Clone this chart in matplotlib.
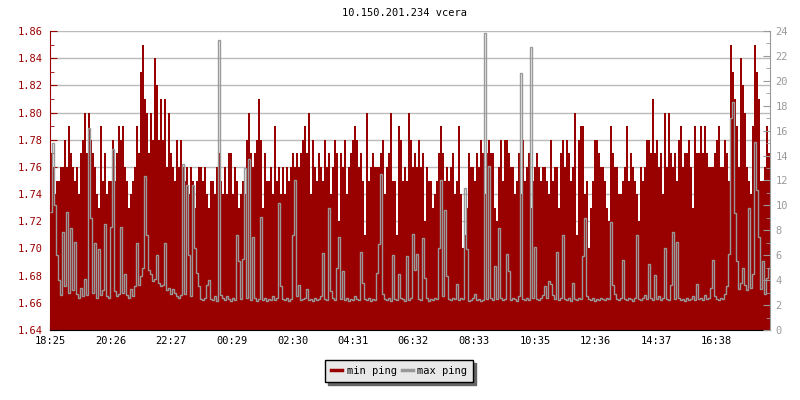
import numpy as np
import matplotlib
matplotlib.use("Agg")
import matplotlib.pyplot as plt
from matplotlib.lines import Line2D

plt.rcParams["font.family"] = "DejaVu Sans Mono"

title = "10.150.201.234 vcera"
start_label = "18:25"
step_min = 4
tick_labels = ["18:25", "20:26", "22:27", "00:29", "02:30", "04:31",
               "06:32", "08:33", "10:35", "12:36", "14:37", "16:38"]

# min ping (left axis), one value per 4 minutes
min_ping = [
    1.77, 1.76, 1.74, 1.75, 1.75, 1.76, 1.76, 1.78, 1.76, 1.79, 1.77, 1.76,
    1.75, 1.76, 1.74, 1.77, 1.78, 1.80, 1.77, 1.80, 1.78, 1.77, 1.76, 1.74,
    1.73, 1.79, 1.75, 1.77, 1.74, 1.75, 1.75, 1.78, 1.75, 1.77, 1.79, 1.78,
    1.79, 1.76, 1.75, 1.73, 1.74, 1.75, 1.76, 1.79, 1.77, 1.83, 1.85, 1.81,
    1.80, 1.77, 1.80, 1.78, 1.84, 1.82, 1.78, 1.81, 1.78, 1.81, 1.76, 1.80,
    1.77, 1.76, 1.75, 1.78, 1.76, 1.78, 1.76, 1.75, 1.76, 1.74, 1.76, 1.75,
    1.73, 1.75, 1.76, 1.76, 1.75, 1.76, 1.74, 1.73, 1.75, 1.75, 1.74, 1.76,
    1.77, 1.75, 1.74, 1.76, 1.74, 1.77, 1.77, 1.74, 1.76, 1.75, 1.73, 1.74,
    1.75, 1.74, 1.78, 1.80, 1.77, 1.76, 1.77, 1.78, 1.81, 1.78, 1.73, 1.77,
    1.75, 1.75, 1.76, 1.74, 1.79, 1.75, 1.76, 1.74, 1.76, 1.74, 1.76, 1.75,
    1.76, 1.77, 1.76, 1.77, 1.76, 1.77, 1.78, 1.79, 1.77, 1.80, 1.74, 1.78,
    1.76, 1.75, 1.77, 1.76, 1.75, 1.78, 1.76, 1.77, 1.74, 1.76, 1.78, 1.77,
    1.72, 1.77, 1.76, 1.78, 1.74, 1.76, 1.77, 1.78, 1.79, 1.78, 1.76, 1.77,
    1.75, 1.71, 1.80, 1.75, 1.76, 1.77, 1.76, 1.76, 1.76, 1.77, 1.78, 1.74,
    1.76, 1.77, 1.80, 1.75, 1.75, 1.71, 1.79, 1.78, 1.75, 1.76, 1.75, 1.80,
    1.78, 1.76, 1.77, 1.76, 1.78, 1.76, 1.77, 1.72, 1.76, 1.75, 1.75, 1.73,
    1.74, 1.75, 1.77, 1.79, 1.77, 1.75, 1.76, 1.75, 1.76, 1.77, 1.74, 1.75,
    1.79, 1.74, 1.70, 1.71, 1.73, 1.77, 1.76, 1.76, 1.75, 1.77, 1.76, 1.78,
    1.77, 1.74, 1.77, 1.78, 1.77, 1.77, 1.73, 1.72, 1.76, 1.78, 1.75, 1.78,
    1.78, 1.77, 1.76, 1.76, 1.74, 1.75, 1.77, 1.74, 1.78, 1.75, 1.76, 1.77,
    1.73, 1.75, 1.76, 1.77, 1.76, 1.75, 1.76, 1.76, 1.75, 1.74, 1.78, 1.75,
    1.76, 1.76, 1.73, 1.77, 1.78, 1.76, 1.78, 1.77, 1.75, 1.76, 1.80, 1.71,
    1.78, 1.79, 1.79, 1.74, 1.75, 1.70, 1.73, 1.75, 1.78, 1.78, 1.77, 1.76,
    1.76, 1.75, 1.73, 1.72, 1.79, 1.77, 1.76, 1.76, 1.74, 1.74, 1.75, 1.76,
    1.79, 1.75, 1.77, 1.76, 1.75, 1.74, 1.72, 1.76, 1.75, 1.76, 1.78, 1.78,
    1.77, 1.81, 1.77, 1.78, 1.76, 1.77, 1.74, 1.80, 1.76, 1.80, 1.77, 1.76,
    1.77, 1.75, 1.78, 1.79, 1.76, 1.77, 1.77, 1.78, 1.76, 1.73, 1.79, 1.77,
    1.77, 1.79, 1.77, 1.79, 1.77, 1.76, 1.76, 1.76, 1.77, 1.78, 1.79, 1.76,
    1.76, 1.78, 1.77, 1.75, 1.85, 1.83, 1.81, 1.79, 1.76, 1.84, 1.82, 1.80,
    1.76, 1.75, 1.74, 1.79, 1.85, 1.83, 1.81, 1.75, 1.75, 1.76, 1.79, 1.77,
]

# max ping (right axis)
max_ping = [
    9.5, 15.0, 10.0, 6.0, 4.0, 2.8, 7.9, 3.5, 9.5, 3.0, 8.2, 3.2,
    7.1, 2.9, 2.6, 3.4, 2.7, 4.1, 2.8, 16.2, 9.0, 3.0, 7.0, 2.6,
    6.5, 2.8, 3.2, 8.5, 2.7, 2.6, 8.3, 14.5, 3.1, 2.7, 2.9, 8.3,
    3.0, 4.5, 2.8, 2.6, 3.3, 2.7, 3.5, 7.0, 3.6, 4.3, 5.0, 12.4,
    7.6, 4.8, 4.5, 3.9, 4.1, 6.0, 3.8, 3.5, 3.6, 7.0, 3.2, 3.4,
    2.9, 3.3, 3.0, 2.7, 2.6, 2.8, 13.3, 2.9, 11.6, 6.0, 2.7, 11.6,
    6.6, 4.6, 3.5, 2.5, 2.4, 2.6, 3.6, 4.0, 2.5, 2.4, 2.7, 2.3,
    23.3, 2.8, 2.6, 2.4, 2.7, 2.5, 2.3, 2.6, 2.4, 7.6, 5.5, 2.5,
    5.7, 13.0, 2.6, 13.7, 2.4, 7.5, 2.6, 2.3, 2.5, 9.1, 2.4, 2.6,
    2.3, 2.5, 2.4, 2.7, 2.4, 2.6, 10.2, 3.5, 2.5, 2.4, 2.6, 2.3,
    2.5, 7.6, 12.0, 2.7, 3.6, 2.4, 2.5, 2.6, 3.3, 2.4, 2.5, 2.3,
    2.6, 2.4, 2.5, 2.7, 6.2, 2.5, 2.4, 9.8, 3.1, 2.6, 2.4, 5.0,
    7.5, 2.5, 4.7, 2.4, 2.6, 2.3, 2.5, 2.4, 2.7, 2.5, 2.4, 6.3,
    3.8, 2.5, 2.4, 2.6, 2.3, 2.5, 2.4, 4.6, 6.9, 12.5, 2.9, 2.5,
    2.4, 2.6, 2.3, 6.0, 2.5, 2.4, 4.5, 2.6, 2.5, 2.3, 5.9, 2.4,
    2.6, 7.7, 4.8, 6.1, 2.5, 2.4, 7.4, 4.2, 2.6, 2.3, 2.5, 2.4,
    2.6, 2.5, 6.6, 12.0, 2.7, 9.6, 4.3, 2.5, 2.4, 2.6, 2.5, 3.7,
    2.4, 2.6, 2.5, 11.4, 6.5, 2.3, 2.4, 2.6, 2.9, 2.4, 2.5, 2.3,
    2.4, 23.8, 2.5, 13.2, 2.6, 2.4, 5.1, 2.5, 8.2, 2.6, 2.4, 2.5,
    6.1, 4.7, 2.4, 2.6, 2.5, 2.3, 2.7, 20.6, 2.5, 2.4, 2.6, 2.4,
    22.7, 2.6, 6.7, 2.5, 2.4, 2.6, 2.8, 3.5, 2.6, 3.9, 3.7, 2.8,
    2.5, 6.3, 2.4, 2.6, 7.6, 2.5, 2.4, 2.6, 2.3, 3.8, 2.5, 2.4,
    2.6, 2.5, 5.9, 9.0, 2.7, 2.5, 2.4, 2.6, 2.3, 2.5, 2.4, 2.6,
    2.5, 2.4, 2.6, 2.5, 8.7, 3.6, 2.9, 2.5, 2.4, 2.6, 5.6, 2.5,
    2.4, 2.6, 2.5, 2.3, 2.6, 7.6, 2.5, 2.4, 2.6, 2.8, 2.5, 5.3,
    2.6, 2.4, 4.4, 2.5, 2.7, 2.4, 2.6, 6.6, 2.5, 2.4, 3.6, 7.9,
    2.5, 7.1, 2.6, 2.4, 2.5, 2.3, 2.6, 2.4, 2.5, 2.7, 2.4, 3.7,
    2.5, 2.6, 2.4, 2.8, 2.5, 2.6, 3.4, 5.6, 2.7, 2.5, 2.4, 2.6,
    2.5, 2.9, 3.5, 6.1, 17.0, 18.3, 9.4, 5.5, 3.3, 3.8, 5.0, 3.6,
    3.2, 9.8, 3.4, 4.5, 15.1, 11.2, 7.5, 3.3, 5.5, 2.9, 4.2, 5.0,
]

RED = "#990000"
GRAY = "#999999"


def minutes_from_start(lbl):
    h, m = map(int, lbl.split(":"))
    h0, m0 = map(int, start_label.split(":"))
    return (h * 60 + m - h0 * 60 - m0) % 1440


edges = np.arange(len(min_ping) + 1) * step_min

fig = plt.figure(figsize=(8, 4), dpi=100)
ax = fig.add_axes([0.0625, 0.175, 0.9, 0.7475])
ax2 = ax.twinx()

ax.stairs(min_ping, edges, fill=True, baseline=1.64, color=RED, zorder=2,
          antialiased=False)
ax2.stairs(max_ping, edges, baseline=None, color=GRAY, lw=1)

ax.set_xlim(0, 1440)
ax.set_ylim(1.64, 1.86)
ax2.set_ylim(0, 24)

ax.set_yticks(np.arange(1.64, 1.861, 0.02))
ax.set_yticks(np.arange(1.65, 1.86, 0.02), minor=True)
ax.set_yticklabels([f"{v:.2f}" for v in np.arange(1.64, 1.861, 0.02)])
ax2.set_yticks(np.arange(0, 25, 2))
ax2.set_yticks(np.arange(1, 24, 2), minor=True)

ax.set_xticks([minutes_from_start(l) for l in tick_labels])
ax.set_xticklabels(tick_labels)

ax.grid(axis="y", color="#bbbbbb", lw=1)
ax.set_axisbelow(True)

ax.tick_params(axis="y", which="major", direction="in", length=5, color=RED,
               labelcolor=RED, labelsize=7.5, pad=5)
ax.tick_params(axis="y", which="minor", direction="in", length=3, color=RED)
ax.tick_params(axis="x", direction="in", length=5, color="black",
               labelsize=7.5, pad=4)
ax2.tick_params(axis="y", which="major", direction="in", length=5, color=GRAY,
                labelcolor=GRAY, labelsize=7.5, pad=4)
ax2.tick_params(axis="y", which="minor", direction="in", length=3, color=GRAY)

for s in ["top", "right"]:
    ax.spines[s].set_visible(False)
for s in ["top", "left", "bottom"]:
    ax2.spines[s].set_visible(False)
ax.spines["left"].set_color(RED)
ax.spines["bottom"].set_color("black")
ax2.spines["right"].set_color(GRAY)

fig.text(0.505, 0.967, title, ha="center", va="center", fontsize=7.5)

handles = [Line2D([], [], color=RED, lw=2.5), Line2D([], [], color=GRAY, lw=2.5)]
leg = fig.legend(handles, ["min ping", "max ping"], loc="center",
                 bbox_to_anchor=(0.499, 0.0725), ncol=2, fontsize=7.5,
                 frameon=True, fancybox=False, shadow={"color": "#666666", "alpha": 1},
                 handlelength=1.1, handletextpad=0.4, columnspacing=0.5,
                 borderpad=0.55)
leg.get_frame().set_edgecolor("black")
leg.get_frame().set_facecolor("#e8e8e8")
leg.get_frame().set_linewidth(1)

fig.savefig("out.png", dpi=100)
